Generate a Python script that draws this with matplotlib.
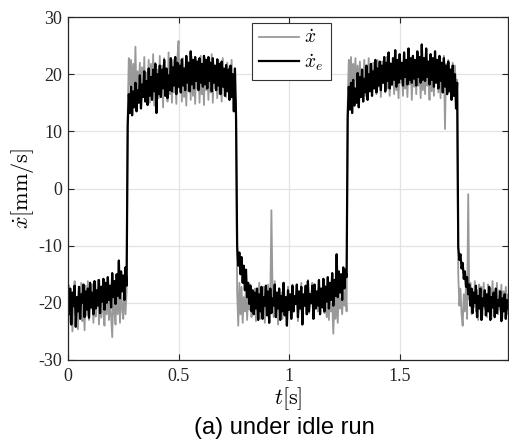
import numpy as np
import matplotlib
matplotlib.use("Agg")
import matplotlib.pyplot as plt

plt.rcParams['mathtext.fontset'] = 'cm'
plt.rcParams['font.family'] = ['Liberation Serif', 'DejaVu Serif']

dt = 0.005  # sample period [s]

# --- estimated velocity (x_e dot), black ---
e_low1 = [-19.5,-22.0,-17.5,-23.8,-18.2,-20.6,-17.0,-24.2,-19.0,-21.5,
          -17.2,-22.8,-18.5,-20.0,-16.8,-22.5,-18.0,-21.2,-17.5,-22.6,
          -16.5,-20.8,-18.2,-22.0,-16.2,-21.0,-17.8,-20.5,-16.0,-21.8,
          -17.2,-19.8,-15.8,-21.2,-16.5,-20.0,-15.5,-19.5,-17.0,-20.8,
          -14.8,-19.0,-16.2,-20.2,-15.0,-18.8,-12.6,-19.2,-14.5,-18.0,
          -15.2,-19.5,-13.8,-17.0]
e_high1 = [11.0,16.5,13.2,17.8,12.8,17.0,14.2,18.5,13.5,17.2,
           15.0,19.8,14.0,18.2,16.0,20.5,15.2,18.8,14.6,21.0,
           16.2,19.5,15.5,20.8,17.0,21.8,13.2,20.0,16.5,21.5,
           16.0,20.8,17.5,22.5,16.2,21.0,15.8,19.8,17.2,22.8,
           17.0,21.2,18.0,23.0,16.5,22.0,17.8,21.5,16.8,22.6,
           18.0,21.0,17.2,23.2,18.5,22.0,17.0,24.0,18.2,22.5,
           17.5,23.0,18.8,22.2,17.2,22.8,18.5,21.8,17.8,23.2,
           18.2,22.5,17.5,23.0,18.8,22.0,17.0,22.8,18.5,21.5,
           17.2,22.6,18.0,21.8,16.5,22.2,17.8,21.0,16.2,21.6,
           17.0,20.8,15.5,21.5,16.0,20.0,13.5,21.0,12.5]
e_low2 = [-10.0,-13.5,-11.2,-15.0,-12.0,-16.5,-13.5,-17.8,-14.2,-19.0,
          -16.5,-20.2,-17.0,-21.5,-17.8,-22.0,-18.2,-21.0,-17.5,-23.0,
          -18.5,-21.5,-17.2,-22.8,-19.0,-20.5,-17.0,-22.2,-18.0,-23.5,
          -17.5,-21.8,-19.2,-20.5,-16.8,-22.5,-18.2,-21.0,-17.5,-23.0,
          -18.8,-21.5,-16.5,-22.2,-19.0,-24.0,-17.8,-21.2,-18.5,-22.8,
          -17.0,-21.5,-18.8,-20.2,-16.8,-22.5,-18.0,-21.0,-17.2,-23.8,
          -18.5,-20.5,-17.0,-22.0,-16.2,-21.5,-18.5,-20.0,-17.0,-22.8,
          -16.8,-21.0,-18.0,-20.5,-16.0,-22.0,-17.5,-20.8,-15.8,-21.5,
          -17.2,-19.8,-15.5,-21.0,-16.5,-19.5,-14.8,-20.5,-16.0,-18.8,
          -11.5,-19.0,-14.5,-18.2,-15.0,-19.5,-13.8,-17.5,-14.2,-15.5]
e_high2 = [12.5,17.8,13.8,18.5,13.2,19.0,14.5,17.5,15.0,20.2,
           14.2,19.5,16.0,20.8,15.2,19.2,16.8,21.5,15.5,20.0,
           17.0,21.8,16.2,20.5,17.5,22.5,16.8,21.0,18.0,22.2,
           17.2,21.5,18.5,23.0,17.0,22.0,18.8,23.8,17.5,21.8,
           18.2,22.8,19.0,24.2,17.8,22.5,18.5,23.5,19.2,22.0,
           18.0,23.8,19.5,22.5,18.2,24.5,19.0,22.8,18.5,23.2,
           19.2,22.5,18.0,24.0,19.5,23.0,18.5,25.2,19.0,22.8,
           18.8,24.5,19.5,22.2,18.2,23.5,19.0,22.8,17.8,24.0,
           18.5,22.5,17.5,23.2,18.8,22.0,16.8,22.8,17.8,21.5,
           16.5,22.2,17.0,20.8,15.5,21.5,16.2,20.0,14.0,18.5]
e_low3 = [-10.2,-12.5,-11.5,-14.0,-13.0,-15.8,-14.5,-17.2,-15.5,-18.5,
          -16.8,-20.5,-17.5,-21.8,-18.2,-20.0,-17.0,-22.5,-18.8,-21.0,
          -17.5,-23.0,-19.2,-20.5,-17.8,-22.2,-18.5,-21.5,-17.2,-23.0,
          -19.0,-20.8,-18.2,-22.5,-17.5,-21.8,-19.5,-20.5,-18.0,-23.2,
          -19.2,-21.5,-18.5,-22.8,-19.5,-21.0,-20.5]

# --- measured velocity (x dot), gray ---
g_low1 = [-20.5,-17.0,-23.5,-18.8,-25.0,-19.2,-16.2,-22.0,-20.0,-24.6,
          -17.8,-21.5,-16.5,-23.2,-19.0,-24.8,-17.0,-22.2,-16.2,-23.0,
          -18.5,-21.0,-16.8,-23.5,-17.2,-22.4,-19.5,-16.0,-23.8,-18.0,
          -22.6,-17.0,-21.8,-24.0,-18.4,-22.0,-16.5,-23.0,-19.0,-22.5,
          -26.0,-18.0,-21.5,-23.8,-17.2,-22.0,-15.5,-23.5,-17.5,-21.0,
          -22.8,-16.0,-22.0,-18.0]
g_high1 = [13.0,22.8,18.0,22.5,16.5,21.8,17.2,24.8,15.5,20.5,
           17.0,22.0,14.8,21.2,16.8,23.0,15.5,20.2,17.5,22.5,
           15.0,21.8,16.0,23.5,14.5,22.0,17.2,20.8,15.8,23.2,
           16.2,21.5,14.2,22.8,17.0,20.5,15.2,23.8,16.5,21.0,
           15.0,22.5,16.8,20.2,14.8,23.0,25.8,17.5,21.8,15.2,
           22.8,16.0,20.5,14.5,22.2,17.0,21.5,15.5,23.0,16.2,
           20.8,14.8,22.5,17.5,21.2,15.0,23.2,16.5,20.0,14.6,
           22.8,17.2,21.0,15.5,22.0,16.8,23.5,15.0,21.5,17.5,
           20.8,15.8,22.5,16.5,21.0,15.2,22.8,17.8,20.5,16.0,
           22.0,18.0,21.2,16.5,22.5,17.0,20.0,16.5,15.0]
g_low2 = [-18.0,-24.0,-16.5,-22.0,-17.2,-23.5,-19.0,-21.5,-17.0,-23.0,
          -18.8,-21.2,-16.8,-22.5,-19.5,-20.8,-17.5,-23.2,-18.2,-21.0,
          -16.5,-22.8,-19.0,-20.5,-17.2,-23.5,-18.5,-21.8,-16.8,-22.0,
          -19.2,-3.8,-18.0,-22.5,-16.2,-21.0,-19.5,-23.8,-17.5,-20.5,
          -18.2,-22.8,-16.5,-21.5,-19.0,-23.0,-17.2,-20.8,-18.8,-22.2,
          -16.8,-21.5,-19.5,-20.0,-17.0,-23.2,-18.2,-21.0,-16.5,-22.5,
          -19.0,-20.5,-17.5,-22.0,-16.0,-21.8,-18.8,-20.2,-16.5,-22.5,
          -17.2,-20.8,-18.5,-21.5,-16.2,-22.0,-17.8,-20.5,-18.8,-21.8,
          -17.0,-22.5,-19.5,-23.0,-18.0,-21.5,-20.2,-25.4,-19.0,-22.8,
          -18.5,-23.5,-17.8,-21.0,-19.2,-22.0,-18.0,-20.5,-17.5,-21.5]
g_high2 = [15.0,22.5,18.0,23.0,16.5,21.8,19.0,22.8,17.2,21.5,
           16.8,22.2,18.5,20.8,17.0,22.5,16.2,21.2,18.0,22.8,
           17.5,20.5,16.8,22.0,18.2,21.0,16.5,22.5,17.8,20.8,
           16.0,22.2,18.5,21.5,16.8,23.0,17.5,20.5,16.2,22.0,
           18.0,21.2,16.5,22.8,17.2,20.8,15.8,22.5,18.5,21.0,
           16.2,23.2,17.5,20.5,16.0,22.0,18.2,21.8,15.5,22.5,
           17.8,21.0,16.5,23.0,18.0,20.8,15.8,22.2,17.2,21.5,
           16.5,22.8,18.0,20.5,15.5,23.5,17.0,21.2,16.2,22.5,
           18.5,20.8,16.8,22.0,15.8,21.5,17.5,23.2,10.4,21.8,
           16.5,22.5,17.0,20.8,16.0,22.0,17.2,21.5,16.5,19.0]
g_low3 = [-15.0,-20.5,-17.5,-22.0,-24.0,-18.5,-21.5,-17.0,-22.8,-1.0,
          -19.5,-16.5,-22.0,-18.0,-20.8,-16.2,-21.5,-17.8,-23.0,-16.8,
          -20.5,-17.2,-22.2,-16.5,-21.0,-18.5,-22.5,-16.8,-20.2,-17.5,
          -22.8,-16.2,-21.0,-18.2,-20.5,-16.5,-22.0,-17.8,-21.2,-16.8,
          -22.5,-18.0,-20.8,-17.2,-22.0,-18.5,-21.5]

x_ticks = [0, 0.5, 1, 1.5]
x_ticklabels = ['0', '0.5', '1', '1.5']
y_ticks = [-30, -20, -10, 0, 10, 20, 30]
y_ticklabels = ['-30', '-20', '-10', '0', '10', '20', '30']

xe_dot = np.array(e_low1 + e_high1 + e_low2 + e_high2 + e_low3)
x_dot = np.array(g_low1 + g_high1 + g_low2 + g_high2 + g_low3)
t = np.arange(len(xe_dot)) * dt

W, H = 509, 443
fig = plt.figure(figsize=(W / 100, H / 100), dpi=100)
ax = fig.add_axes([68 / W, 1 - 360 / H, (508 - 68) / W, (360 - 17) / H])

ax.plot(t, x_dot, color='#999999', lw=1.3, label=r'$\dot{x}$')
ax.plot(t, xe_dot, color='black', lw=1.6, label=r'$\dot{x}_e$')

ax.set_xlim(0, 1.99)
ax.set_ylim(-30, 30)
ax.set_xticks(x_ticks)
ax.set_xticklabels(x_ticklabels)
ax.set_yticks(y_ticks)
ax.set_yticklabels(y_ticklabels)
ax.tick_params(direction='in', length=4, width=0.8, top=True, right=True,
               labelsize=13, colors='#262626')
ax.tick_params(axis='x', pad=6)
ax.tick_params(axis='y', pad=4)
ax.grid(True, color='#e3e3e3', lw=0.9)
ax.set_axisbelow(True)
for s in ax.spines.values():
    s.set_linewidth(0.9)
    s.set_color('#262626')

ax.set_xlabel(r'$t[\mathrm{s}]$', fontsize=16, labelpad=0)
ax.set_ylabel(r'$\dot{x}[\mathrm{mm/s}]$', fontsize=16, labelpad=2)

leg = ax.legend(loc='upper left', bbox_to_anchor=((252 - 68) / 440, 1 - (23 - 17) / 343),
                borderaxespad=0, fontsize=14, handlelength=2.05, handletextpad=0.3,
                borderpad=0.35, labelspacing=0.25, fancybox=False, framealpha=1)
leg.get_frame().set_edgecolor('#333333')
leg.get_frame().set_linewidth(0.8)

fig.text(284 / W, 1 - 428 / H, '(a) under idle run', ha='center', va='center',
         fontsize=17, family=['Liberation Sans', 'DejaVu Sans'])

fig.savefig('out.png', dpi=100)
